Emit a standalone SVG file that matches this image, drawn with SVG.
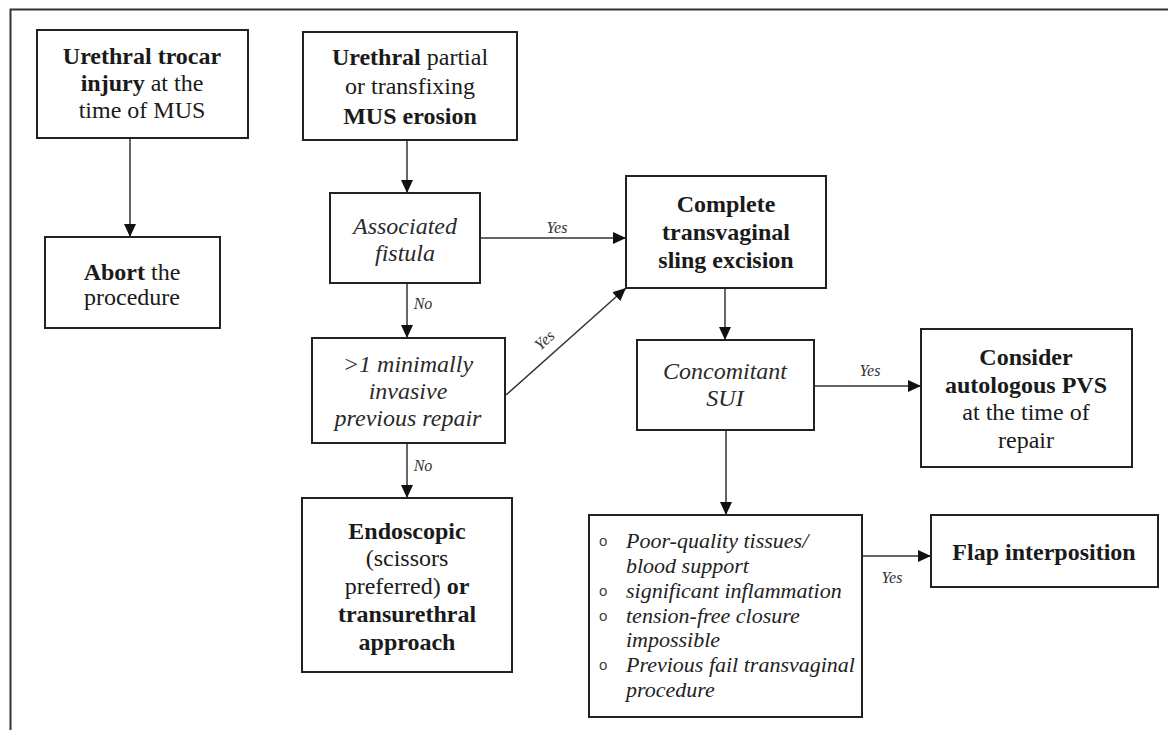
<svg xmlns="http://www.w3.org/2000/svg" width="1168" height="730" viewBox="0 0 1168 730">
<style>
.box{fill:#fff;stroke:#222;stroke-width:2}
.t{font-family:"Liberation Serif","Times New Roman",serif;font-size:24px;fill:#1a1a1a;text-anchor:middle}
.b{font-weight:bold}
.i{font-style:italic;fill:#2a2a2a}
.l{font-family:"Liberation Serif","Times New Roman",serif;font-size:22px;font-style:italic;fill:#222}
.bul{font-family:"Liberation Sans",Arial,sans-serif;font-size:15px;fill:#444}
.lab{font-family:"Liberation Serif","Times New Roman",serif;font-size:16px;font-style:italic;fill:#333;text-anchor:middle}
.c{stroke:#333;stroke-width:1.5;fill:none;marker-end:url(#ah)}
.frame{stroke:#333;stroke-width:2;fill:none}
</style>
<defs>
<marker id="ah" markerUnits="userSpaceOnUse" markerWidth="13" markerHeight="12" refX="13" refY="6" orient="auto">
<path d="M0,0 L13,6 L0,12 z" fill="#111"/>
</marker>
</defs>
<rect width="1168" height="730" fill="#fff"/>
<path class="frame" d="M10.5,730 L10.5,9.5 L1168,9.5"/>

<g id="connectors">
<line class="c" x1="130" y1="138" x2="130" y2="237"/>
<line class="c" x1="407" y1="140" x2="407" y2="193"/>
<line class="c" x1="407" y1="283" x2="407" y2="338"/>
<line class="c" x1="407" y1="443" x2="407" y2="498"/>
<line class="c" x1="480" y1="238" x2="626" y2="238"/>
<line class="c" x1="506" y1="395" x2="626" y2="288"/>
<line class="c" x1="725" y1="288" x2="725" y2="340"/>
<line class="c" x1="814" y1="386" x2="921" y2="386"/>
<line class="c" x1="726" y1="430" x2="726" y2="515"/>
<line class="c" x1="862" y1="556" x2="931" y2="556"/>
<text class="lab" x="557" y="233">Yes</text>
<text class="lab" x="423" y="309">No</text>
<text class="lab" x="423" y="471">No</text>
<text class="lab" transform="translate(548,344) rotate(-42)">Yes</text>
<text class="lab" x="870" y="376">Yes</text>
<text class="lab" x="892" y="583">Yes</text>
</g>

<g id="trocar">
<rect class="box" x="37" y="30" width="211" height="108"/>
<text class="t" x="142" y="64"><tspan class="b">Urethral trocar</tspan></text>
<text class="t" x="142" y="91"><tspan class="b">injury</tspan> at the</text>
<text class="t" x="142" y="118">time of MUS</text>
</g>

<g id="abort">
<rect class="box" x="45" y="237" width="175" height="91"/>
<text class="t" x="132" y="280"><tspan class="b">Abort</tspan> the</text>
<text class="t" x="132" y="305">procedure</text>
</g>

<g id="erosion">
<rect class="box" x="303" y="32" width="214" height="108"/>
<text class="t" x="410" y="65"><tspan class="b">Urethral</tspan> partial</text>
<text class="t" x="410" y="94">or transfixing</text>
<text class="t b" x="410" y="124">MUS erosion</text>
</g>

<g id="fistula">
<rect class="box" x="330" y="193" width="150" height="90"/>
<text class="t i" x="405" y="234">Associated</text>
<text class="t i" x="405" y="261">fistula</text>
</g>

<g id="previous">
<rect class="box" x="312" y="338" width="193" height="105"/>
<text class="t i" x="408" y="372">&gt;1 minimally</text>
<text class="t i" x="408" y="399">invasive</text>
<text class="t i" x="408" y="426">previous repair</text>
</g>

<g id="endoscopic">
<rect class="box" x="302" y="498" width="210" height="174"/>
<text class="t b" x="407" y="539">Endoscopic</text>
<text class="t" x="407" y="566">(scissors</text>
<text class="t" x="407" y="594">preferred)<tspan class="b"> or</tspan></text>
<text class="t b" x="407" y="622">transurethral</text>
<text class="t b" x="407" y="650">approach</text>
</g>

<g id="excision">
<rect class="box" x="626" y="176" width="200" height="112"/>
<text class="t b" x="726" y="212">Complete</text>
<text class="t b" x="726" y="240">transvaginal</text>
<text class="t b" x="726" y="268">sling excision</text>
</g>

<g id="sui">
<rect class="box" x="637" y="340" width="177" height="90"/>
<text class="t i" x="725" y="379">Concomitant</text>
<text class="t i" x="725" y="406">SUI</text>
</g>

<g id="pvs">
<rect class="box" x="921" y="329" width="211" height="138"/>
<text class="t b" x="1026" y="365">Consider</text>
<text class="t b" x="1026" y="393">autologous PVS</text>
<text class="t" x="1026" y="420">at the time of</text>
<text class="t" x="1026" y="448">repair</text>
</g>

<g id="criteria">
<rect class="box" x="589" y="515" width="273" height="202"/>
<text class="bul" x="599" y="546">o</text>
<text class="l" x="626" y="548">Poor-quality tissues/</text>
<text class="l" x="626" y="573">blood support</text>
<text class="bul" x="599" y="596">o</text>
<text class="l" x="626" y="598">significant inflammation</text>
<text class="bul" x="599" y="621">o</text>
<text class="l" x="626" y="623">tension-free closure</text>
<text class="l" x="626" y="647">impossible</text>
<text class="bul" x="599" y="670">o</text>
<text class="l" x="626" y="672">Previous fail transvaginal</text>
<text class="l" x="626" y="697">procedure</text>
</g>

<g id="flap">
<rect class="box" x="931" y="515" width="227" height="72"/>
<text class="t b" x="1044" y="560">Flap interposition</text>
</g>
</svg>
